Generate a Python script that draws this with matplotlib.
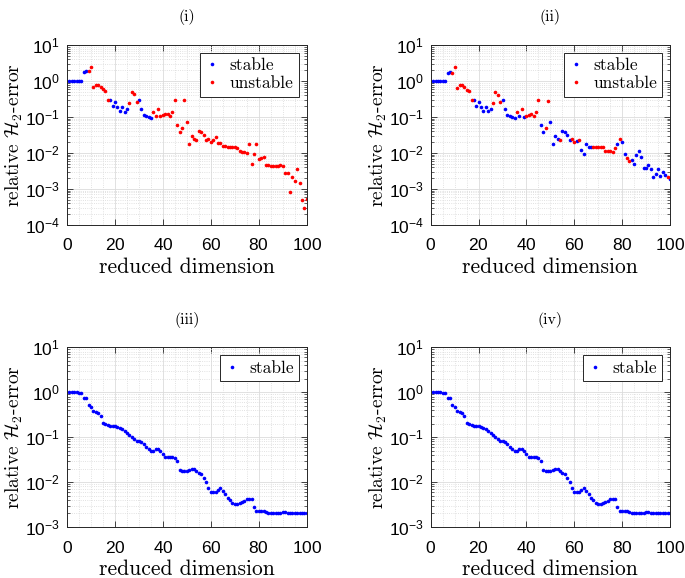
import numpy as np
import matplotlib
matplotlib.use("Agg")
import matplotlib.pyplot as plt
from matplotlib.ticker import LogLocator, MultipleLocator, NullFormatter

plt.rcParams['mathtext.fontset'] = 'cm'
plt.rcParams['axes.formatter.use_mathtext'] = True

# reduced dimensions r = 1..100
dims = list(range(1, 101))

# panel (i): relative H2 error, 1 = stable reduced model, 0 = unstable
err_i = [1.0, 1.0, 1.0, 1.0, 1.0, 1.0, 1.80, 1.90, 1.95, 2.5,
         0.67, 0.78, 0.76, 0.68, 0.59, 0.53, 0.30, 0.30, 0.20, 0.26,
         0.19, 0.15, 0.19, 0.14, 0.17, 0.25, 0.49, 0.43, 0.26, 0.30,
         0.17, 0.115, 0.105, 0.10, 0.092, 0.135, 0.105, 0.165, 0.105, 0.11,
         0.12, 0.125, 0.107, 0.135, 0.30, 0.059, 0.038, 0.051, 0.29, 0.074,
         0.018, 0.030, 0.025, 0.0225, 0.040, 0.039, 0.032, 0.0225, 0.024, 0.020,
         0.0225, 0.027, 0.019, 0.019, 0.016, 0.0155, 0.0147, 0.0142, 0.0142, 0.0145,
         0.0135, 0.011, 0.0108, 0.0108, 0.0102, 0.018, 0.0049, 0.0092, 0.018, 0.0066,
         0.0072, 0.0077, 0.0046, 0.0045, 0.0044, 0.0043, 0.0043, 0.0044, 0.0046, 0.0042,
         0.0027, 0.0027, 0.00083, 0.0021, 0.00166, 0.0036, 0.00144, 0.00049, 0.0003, 0.00054]
stable_i = ([1] * 8 + [0] * 9 + [1] * 8 + [0] * 4 + [1] * 6 + [0] * 65)

# panel (ii)
err_ii = [1.0, 1.0, 1.0, 1.0, 1.0, 1.0, 1.63, 1.82, 1.63, 2.45,
          0.65, 0.77, 0.76, 0.67, 0.57, 0.53, 0.30, 0.30, 0.20, 0.26,
          0.19, 0.15, 0.185, 0.146, 0.17, 0.245, 0.48, 0.42, 0.26, 0.30,
          0.165, 0.116, 0.105, 0.10, 0.092, 0.135, 0.105, 0.165, 0.10, 0.107,
          0.116, 0.12, 0.107, 0.137, 0.30, 0.059, 0.038, 0.05, 0.285, 0.073,
          0.018, 0.030, 0.025, 0.0225, 0.040, 0.039, 0.032, 0.0225, 0.024, 0.020,
          0.022, 0.0235, 0.012, 0.0094, 0.0174, 0.015, 0.0147, 0.0147, 0.0145, 0.0145,
          0.0145, 0.0142, 0.011, 0.011, 0.011, 0.0105, 0.0138, 0.0178, 0.0245, 0.020,
          0.0094, 0.0071, 0.0058, 0.0064, 0.0050, 0.0085, 0.0114, 0.0077, 0.0037, 0.0039,
          0.0045, 0.0036, 0.0022, 0.0026, 0.0035, 0.0023, 0.0030, 0.0025, 0.0022, 0.0019]
stable_ii = ([1] * 8 + [0] * 9 + [1] * 8 + [0] * 4 + [1] * 6
             + [0, 1, 0, 1, 0, 0, 0, 0, 0, 0, 1, 1, 0, 0, 1, 1, 1, 1, 0, 1,
                1, 1, 1, 0, 0, 1, 0, 1, 1, 1, 1, 1, 0, 0, 0, 0, 0, 0, 0, 0,
                0, 0, 1, 0, 1, 1, 0, 0, 1, 1, 1, 1, 1, 1, 1, 1, 1, 1, 1, 1,
                1, 1, 1, 0, 1])

# panels (iii) and (iv): all reduced models stable, curves look identical
err_iii = [1.03, 1.03, 1.02, 1.02, 0.96, 0.98, 0.74, 0.74, 0.53, 0.47,
           0.38, 0.36, 0.34, 0.30, 0.21, 0.20, 0.185, 0.18, 0.18, 0.175,
           0.17, 0.16, 0.15, 0.138, 0.125, 0.11, 0.103, 0.092, 0.083, 0.081,
           0.079, 0.070, 0.061, 0.054, 0.050, 0.050, 0.054, 0.055, 0.048, 0.042,
           0.037, 0.037, 0.036, 0.036, 0.034, 0.029, 0.019, 0.018, 0.018, 0.018,
           0.019, 0.020, 0.020, 0.018, 0.016, 0.015, 0.0123, 0.0103, 0.0075, 0.0061,
           0.0060, 0.0061, 0.0066, 0.0074, 0.0064, 0.0055, 0.0044, 0.0039, 0.0034, 0.0033,
           0.0033, 0.0034, 0.0036, 0.0038, 0.0041, 0.0043, 0.0043, 0.0028, 0.0023, 0.0023,
           0.0023, 0.0023, 0.0022, 0.0021, 0.0020, 0.0020, 0.0020, 0.0021, 0.0021, 0.0022,
           0.0022, 0.0021, 0.0020, 0.0020, 0.0020, 0.0020, 0.0020, 0.0020, 0.0020, 0.0020]
err_iv = list(err_iii)

titles = ['(i)', '(ii)', '(iii)', '(iv)']

TICKFONT = 'Liberation Sans'
SERIF = 'cmr10'
FRAME = '0.15'


def style_axes(ax, ylim):
    ax.set_yscale('log')
    ax.set_xlim(0, 100)
    ax.set_ylim(*ylim)
    ax.xaxis.set_major_locator(MultipleLocator(20))
    ax.xaxis.set_minor_locator(MultipleLocator(5))
    ax.yaxis.set_major_locator(LogLocator(base=10, numticks=10))
    ax.yaxis.set_minor_locator(LogLocator(base=10, subs=np.arange(2, 10), numticks=20))
    ax.yaxis.set_minor_formatter(NullFormatter())
    ax.tick_params(which='both', direction='in', top=True, right=True,
                   colors=FRAME, labelcolor='black')
    ax.tick_params(which='major', length=4, width=0.6, labelsize=12.5, pad=5)
    ax.tick_params(axis='x', which='major', pad=9)
    ax.tick_params(axis='x', which='minor', length=0)
    ax.tick_params(axis='y', which='minor', length=2, width=0.5)
    for lab in ax.get_xticklabels() + ax.get_yticklabels():
        lab.set_fontfamily(TICKFONT)
    for sp in ax.spines.values():
        sp.set_color(FRAME)
        sp.set_linewidth(0.7)
    ax.grid(True, which='major', color='#dcdcdc', linewidth=0.6)
    ax.grid(True, which='minor', color='#d8d8d8', linestyle=':', linewidth=0.6)
    ax.set_axisbelow(True)
    ax.set_xlabel('reduced dimension', fontfamily=SERIF, fontsize=15.5, labelpad=3)
    ax.set_ylabel(r'relative $\mathcal{H}_2$-error', fontfamily=SERIF, fontsize=14)
    ax.yaxis.set_label_coords(-0.175, 0.5)


fig = plt.figure(figsize=(6.85, 5.78), dpi=100)
positions = [[0.0978, 0.611, 0.350, 0.311], [0.629, 0.611, 0.349, 0.311],
             [0.0978, 0.0882, 0.350, 0.311], [0.629, 0.0882, 0.349, 0.311]]
axes = [fig.add_axes(p) for p in positions]

x = np.array(dims)
for ax, err, stab in [(axes[0], err_i, stable_i), (axes[1], err_ii, stable_ii)]:
    e = np.array(err)
    s = np.array(stab, dtype=bool)
    ax.plot(x[s], e[s], 'o', color='blue', markersize=2.6, markeredgewidth=0, label='stable')
    ax.plot(x[~s], e[~s], 'o', color='red', markersize=2.6, markeredgewidth=0, label='unstable')
    style_axes(ax, (1e-4, 1e1))

for ax, err in [(axes[2], err_iii), (axes[3], err_iv)]:
    ax.plot(x, err, 'o', color='blue', markersize=2.6, markeredgewidth=0, label='stable')
    style_axes(ax, (1e-3, 1e1))

for ax, t in zip(axes, titles):
    ax.set_title(t, fontfamily=SERIF, fontsize=11.5, pad=17)
    leg = ax.legend(loc='upper right', prop={'family': SERIF, 'size': 12.5},
                    fancybox=False, edgecolor=FRAME, framealpha=1,
                    handlelength=0.8, handletextpad=0.6, borderpad=0.3,
                    labelspacing=0.15, borderaxespad=0.45, markerscale=1.0)
    leg.get_frame().set_linewidth(0.7)

fig.savefig('out.png', dpi=100)
